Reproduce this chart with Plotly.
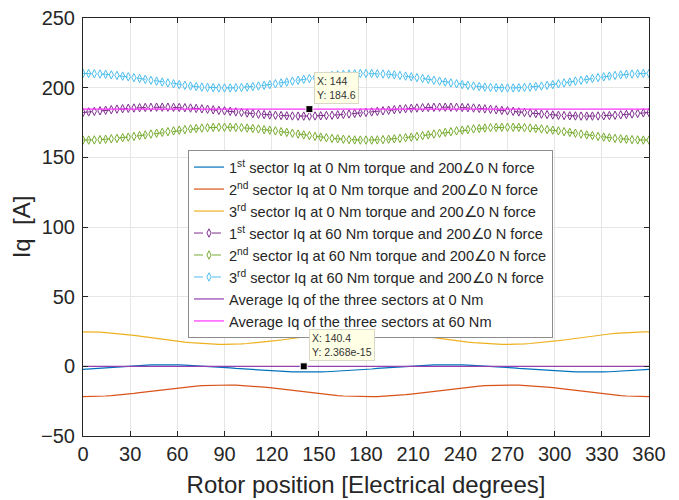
import plotly.graph_objects as go

rotor_deg = [0, 3.6, 7.2, 10.8, 14.4, 18, 21.6, 25.2, 28.8, 32.4, 36, 39.6, 43.2, 46.8, 50.4, 54, 57.6, 61.2, 64.8, 68.4,
             72, 75.6, 79.2, 82.8, 86.4, 90, 93.6, 97.2, 100.8, 104.4, 108, 111.6, 115.2, 118.8, 122.4, 126, 129.6, 133.2,
             136.8, 140.4, 144, 147.6, 151.2, 154.8, 158.4, 162, 165.6, 169.2, 172.8, 176.4, 180,
             183.6, 187.2, 190.8, 194.4, 198, 201.6, 205.2, 208.8, 212.4, 216, 219.6, 223.2, 226.8, 230.4, 234, 237.6,
             241.2, 244.8, 248.4, 252, 255.6, 259.2, 262.8, 266.4, 270, 273.6, 277.2, 280.8, 284.4, 288, 291.6, 295.2,
             298.8, 302.4, 306, 309.6, 313.2, 316.8, 320.4, 324, 327.6, 331.2, 334.8, 338.4, 342, 345.6, 349.2, 352.8,
             356.4, 360]

iq1_0nm = [-2.2, -1.9, -1.5, -1.2, -0.9, -0.6, -0.3, 0.0, 0.3, 0.5, 0.7, 0.8, 1.0, 1.0, 1.1, 1.1, 1.1, 1.0, 0.9, 0.7,
           0.5, 0.3, 0.1, -0.2, -0.5, -0.8, -1.1, -1.5, -1.8, -2.1, -2.4, -2.7, -3.0, -3.3, -3.5, -3.7, -3.8, -4.0,
           -4.0, -4.1, -4.1, -4.1, -4.0, -3.9, -3.7, -3.5, -3.3, -3.1, -2.8, -2.5, -2.2,
           -1.9, -1.5, -1.2, -0.9, -0.6, -0.3, 0.0, 0.3, 0.5, 0.7, 0.8, 1.0, 1.0, 1.1, 1.1, 1.1, 1.0, 0.9, 0.7,
           0.5, 0.3, 0.1, -0.2, -0.5, -0.8, -1.1, -1.5, -1.8, -2.1, -2.4, -2.7, -3.0, -3.3, -3.5, -3.7, -3.8, -4.0,
           -4.0, -4.1, -4.1, -4.1, -4.0, -3.9, -3.7, -3.5, -3.3, -3.1, -2.8, -2.5, -2.2]

iq2_0nm = [-21.8, -21.8, -21.7, -21.5, -21.3, -21.0, -20.7, -20.3, -19.9, -19.4, -18.9, -18.4, -17.9, -17.3, -16.8,
           -16.3, -15.8, -15.3, -14.9, -14.5, -14.2, -13.9, -13.7, -13.5, -13.4, -13.4, -13.4, -13.5, -13.7, -13.9,
           -14.2, -14.5, -14.9, -15.3, -15.8, -16.3, -16.8, -17.3, -17.9, -18.4, -18.9, -19.4, -19.9, -20.3, -20.7,
           -21.0, -21.3, -21.5, -21.7, -21.8, -21.8,
           -21.8, -21.7, -21.5, -21.3, -21.0, -20.7, -20.3, -19.9, -19.4, -18.9, -18.4, -17.9, -17.3, -16.8,
           -16.3, -15.8, -15.3, -14.9, -14.5, -14.2, -13.9, -13.7, -13.5, -13.4, -13.4, -13.4, -13.5, -13.7, -13.9,
           -14.2, -14.5, -14.9, -15.3, -15.8, -16.3, -16.8, -17.3, -17.9, -18.4, -18.9, -19.4, -19.9, -20.3, -20.7,
           -21.0, -21.3, -21.5, -21.7, -21.8, -21.8]

iq3_0nm = [24.8, 24.8, 24.7, 24.5, 24.2, 23.9, 23.6, 23.2, 22.7, 22.2, 21.7, 21.1, 20.6, 20.0, 19.5, 18.9, 18.4, 17.9,
           17.4, 17.0, 16.7, 16.4, 16.1, 15.9, 15.8, 15.8, 15.8, 15.9, 16.1, 16.4, 16.7, 17.0, 17.4, 17.9, 18.4, 18.9,
           19.5, 20.0, 20.6, 21.1, 21.7, 22.2, 22.7, 23.2, 23.6, 23.9, 24.2, 24.5, 24.7, 24.8, 24.8,
           24.8, 24.7, 24.5, 24.2, 23.9, 23.6, 23.2, 22.7, 22.2, 21.7, 21.1, 20.6, 20.0, 19.5, 18.9, 18.4, 17.9,
           17.4, 17.0, 16.7, 16.4, 16.1, 15.9, 15.8, 15.8, 15.8, 15.9, 16.1, 16.4, 16.7, 17.0, 17.4, 17.9, 18.4, 18.9,
           19.5, 20.0, 20.6, 21.1, 21.7, 22.2, 22.7, 23.2, 23.6, 23.9, 24.2, 24.5, 24.7, 24.8, 24.8]

iq1_60nm = [182.2, 182.6, 183.0, 183.4, 183.8, 184.2, 184.6, 184.9, 185.2, 185.4, 185.6, 185.8, 185.9, 186.0, 186.0,
            186.0, 185.9, 185.8, 185.6, 185.4, 185.1, 184.8, 184.5, 184.1, 183.7, 183.4, 183.0, 182.6, 182.2, 181.8,
            181.4, 181.0, 180.7, 180.4, 180.2, 180.0, 179.8, 179.7, 179.6, 179.6, 179.6, 179.7, 179.8, 180.0, 180.2,
            180.5, 180.8, 181.1, 181.5, 181.9, 182.2,
            182.6, 183.0, 183.4, 183.8, 184.2, 184.6, 184.9, 185.2, 185.4, 185.6, 185.8, 185.9, 186.0, 186.0,
            186.0, 185.9, 185.8, 185.6, 185.4, 185.1, 184.8, 184.5, 184.1, 183.7, 183.4, 183.0, 182.6, 182.2, 181.8,
            181.4, 181.0, 180.7, 180.4, 180.2, 180.0, 179.8, 179.7, 179.6, 179.6, 179.6, 179.7, 179.8, 180.0, 180.2,
            180.5, 180.8, 181.1, 181.5, 181.9, 182.2]

iq2_60nm = [162.4, 162.4, 162.5, 162.7, 163.0, 163.3, 163.6, 164.1, 164.5, 165.0, 165.6, 166.1, 166.7, 167.3, 167.9,
            168.4, 169.0, 169.5, 169.9, 170.4, 170.7, 171.0, 171.3, 171.5, 171.6, 171.6, 171.6, 171.5, 171.3, 171.0,
            170.7, 170.4, 169.9, 169.5, 169.0, 168.4, 167.9, 167.3, 166.7, 166.1, 165.6, 165.0, 164.5, 164.1, 163.6,
            163.3, 163.0, 162.7, 162.5, 162.4, 162.4,
            162.4, 162.5, 162.7, 163.0, 163.3, 163.6, 164.1, 164.5, 165.0, 165.6, 166.1, 166.7, 167.3, 167.9,
            168.4, 169.0, 169.5, 169.9, 170.4, 170.7, 171.0, 171.3, 171.5, 171.6, 171.6, 171.6, 171.5, 171.3, 171.0,
            170.7, 170.4, 169.9, 169.5, 169.0, 168.4, 167.9, 167.3, 166.7, 166.1, 165.6, 165.0, 164.5, 164.1, 163.6,
            163.3, 163.0, 162.7, 162.5, 162.4, 162.4]

iq3_60nm = [210.2, 210.2, 210.0, 209.8, 209.6, 209.2, 208.8, 208.3, 207.8, 207.2, 206.6, 206.0, 205.3, 204.7, 204.0,
            203.4, 202.8, 202.2, 201.7, 201.2, 200.8, 200.4, 200.2, 200.0, 199.8, 199.8, 199.8, 200.0, 200.2, 200.4,
            200.8, 201.2, 201.7, 202.2, 202.8, 203.4, 204.0, 204.7, 205.3, 206.0, 206.6, 207.2, 207.8, 208.3, 208.8,
            209.2, 209.6, 209.8, 210.0, 210.2, 210.2,
            210.2, 210.0, 209.8, 209.6, 209.2, 208.8, 208.3, 207.8, 207.2, 206.6, 206.0, 205.3, 204.7, 204.0,
            203.4, 202.8, 202.2, 201.7, 201.2, 200.8, 200.4, 200.2, 200.0, 199.8, 199.8, 199.8, 200.0, 200.2, 200.4,
            200.8, 201.2, 201.7, 202.2, 202.8, 203.4, 204.0, 204.7, 205.3, 206.0, 206.6, 207.2, 207.8, 208.3, 208.8,
            209.2, 209.6, 209.8, 210.0, 210.2, 210.2]

avg_x = [0, 360]
avg_0nm = [2.368e-15, 2.368e-15]
avg_60nm = [184.6, 184.6]

tip_x = [144, 140.4]
tip_y = [184.6, 2.368e-15]
tip_text = ["X: 144<br>Y: 184.6", "X: 140.4<br>Y: 2.368e-15"]

x_ticks = [0, 30, 60, 90, 120, 150, 180, 210, 240, 270, 300, 330, 360]
y_ticks = [-50, 0, 50, 100, 150, 200, 250]

names = [
    "1<sup>st</sup> sector Iq at 0 Nm torque and 200\u22200 N force",
    "2<sup>nd</sup> sector Iq at 0 Nm torque and 200\u22200 N force",
    "3<sup>rd</sup> sector Iq at 0 Nm torque and 200\u22200 N force",
    "1<sup>st</sup> sector Iq at 60 Nm torque and 200\u22200 N force",
    "2<sup>nd</sup> sector Iq at 60 Nm torque and 200\u22200 N force",
    "3<sup>rd</sup> sector Iq at 60 Nm torque and 200\u22200 N force",
    "Average Iq of the three sectors at 0 Nm",
    "Average Iq of the three sectors at 60 Nm",
]

FONT = "Liberation Sans, Arial, Helvetica, sans-serif"
fig = go.Figure()

for ys, name, col in [(iq1_0nm, names[0], "#0072BD"), (iq2_0nm, names[1], "#D95319"), (iq3_0nm, names[2], "#EDB120")]:
    fig.add_trace(go.Scatter(x=rotor_deg, y=ys, name=name, mode="lines", line=dict(color=col, width=1.2)))

for ys, name, col in [(iq1_60nm, names[3], "#7E2F8E"), (iq2_60nm, names[4], "#77AC30"), (iq3_60nm, names[5], "#4DBEEE")]:
    fig.add_trace(go.Scatter(x=rotor_deg, y=ys, name=name, mode="lines+markers",
                             line=dict(color=col, width=1, dash="dash"),
                             marker=dict(symbol="diamond-tall-open", size=6, color=col, line=dict(width=1, color=col))))

fig.add_trace(go.Scatter(x=avg_x, y=avg_0nm, name=names[6], mode="lines", line=dict(color="#9440B0", width=1.2)))
fig.add_trace(go.Scatter(x=avg_x, y=avg_60nm, name=names[7], mode="lines", line=dict(color="#FF33FF", width=1.2)))

fig.add_trace(go.Scatter(x=tip_x, y=tip_y, mode="markers", showlegend=False,
                         marker=dict(symbol="square", size=7, color="black", line=dict(width=1, color="white"))))

for tx, ty, tt in zip(tip_x, tip_y, tip_text):
    fig.add_annotation(x=tx, y=ty, text=tt, showarrow=False, xanchor="left", yanchor="bottom",
                       xshift=5, yshift=5, align="left",
                       font=dict(family=FONT, size=10.5, color="#333333"),
                       bgcolor="#FFFFE6", bordercolor="#D8D8C8", borderwidth=1, borderpad=2)

axis_common = dict(showline=True, linecolor="#262626", linewidth=1, mirror="ticks", ticks="inside", ticklen=5,
                   tickcolor="#262626", showgrid=True, gridcolor="#E6E6E6", gridwidth=1, zeroline=False,
                   automargin=False, ticklabeloverflow="allow",
                   tickfont=dict(family=FONT, size=20, color="#262626"))

fig.update_layout(
    width=671, height=492,
    margin=dict(l=75, r=30, t=10, b=64),
    paper_bgcolor="white", plot_bgcolor="white",
    font=dict(family=FONT, color="#262626"),
    xaxis=dict(range=[0, 360], tickvals=x_ticks,
               title=dict(text="Rotor position [Electrical degrees]", font=dict(family=FONT, size=24, color="#262626"),
                          standoff=12),
               **axis_common),
    yaxis=dict(range=[-50, 250], tickvals=y_ticks, ticklabelstandoff=3,
               title=dict(text="Iq  [A]", font=dict(family=FONT, size=24, color="#262626"), standoff=8),
               **axis_common),
    legend=dict(x=0.1855, y=0.684, xanchor="left", yanchor="top", bgcolor="white", bordercolor="#8C8C8C",
                borderwidth=1, font=dict(family=FONT, size=14.6, color="#262626"), tracegroupgap=0),
    showlegend=True,
)

fig.write_html("out.html")
